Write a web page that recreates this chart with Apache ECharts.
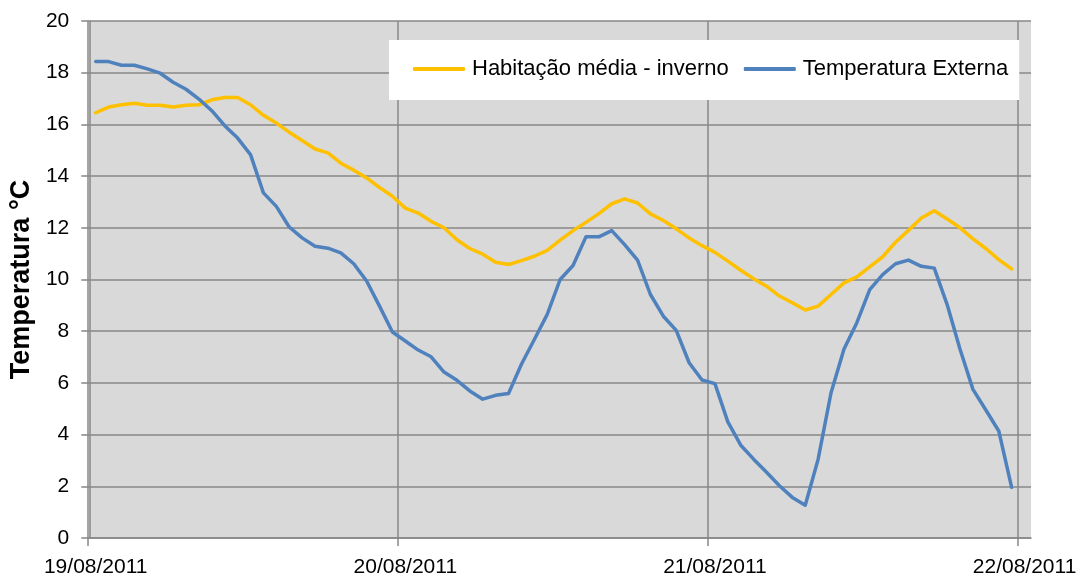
<!DOCTYPE html>
<html>
<head>
<meta charset="utf-8">
<script src="https://cdn.jsdelivr.net/npm/echarts@6/dist/echarts.min.js"></script>
<style>
  html, body { margin: 0; padding: 0; background: #fff; }
  #chart { width: 1086px; height: 578px; }
</style>
</head>
<body>
<div id="chart"></div>
<script>
// Hourly readings over three days (19/08/2011 00:00 to 21/08/2011 23:00)
const dayLabels = ['19/08/2011', '20/08/2011', '21/08/2011', '22/08/2011'];
const hoursPerDay = 24;

const seriesNames = ['Habitação média - inverno', 'Temperatura Externa'];

const habitacao = [
  16.45, 16.67, 16.76, 16.82, 16.74, 16.74, 16.67, 16.74, 16.76, 16.95,
  17.04, 17.04, 16.76, 16.35, 16.05, 15.70, 15.38, 15.05, 14.90, 14.50,
  14.23, 13.93, 13.56, 13.22, 12.76, 12.57, 12.25, 12.00, 11.54, 11.20,
  10.98, 10.67, 10.58, 10.73, 10.90, 11.13, 11.52, 11.89, 12.21, 12.55,
  12.93, 13.12, 12.96, 12.54, 12.28, 11.96, 11.61, 11.31, 11.05, 10.71,
  10.36, 10.03, 9.74, 9.36, 9.10, 8.82, 8.97, 9.42, 9.87, 10.10,
  10.49, 10.88, 11.44, 11.90, 12.38, 12.66, 12.34, 12.00, 11.57, 11.20,
  10.77, 10.41
];

const externa = [
  18.43, 18.43, 18.29, 18.29, 18.15, 17.98, 17.63, 17.36, 16.98, 16.53,
  15.95, 15.47, 14.83, 13.35, 12.83, 12.03, 11.61, 11.29, 11.21, 11.03,
  10.61, 9.94, 8.97, 7.97, 7.62, 7.27, 7.01, 6.42, 6.10, 5.69,
  5.37, 5.52, 5.59, 6.72, 7.68, 8.65, 10.00, 10.54, 11.65, 11.65,
  11.89, 11.35, 10.75, 9.42, 8.58, 8.03, 6.78, 6.11, 5.97, 4.49,
  3.59, 3.05, 2.54, 2.02, 1.57, 1.27, 3.05, 5.62, 7.30, 8.33,
  9.61, 10.19, 10.61, 10.75, 10.51, 10.44, 9.03, 7.30, 5.75, 4.95,
  4.14, 1.96
];

// One category per hour, plus the first hour of the final day
const categories = [];
for (let d = 0; d < dayLabels.length; d++) {
  const n = d === dayLabels.length - 1 ? 1 : hoursPerDay;
  for (let h = 0; h < n; h++) {
    categories.push(dayLabels[d] + ' ' + String(h).padStart(2, '0') + ':00');
  }
}

const FONT = '"Liberation Sans", Arial, sans-serif';
const GRID_COLOR = '#878787';

const chart = echarts.init(document.getElementById('chart'), null, { renderer: 'canvas' });

const plotLeft = 88, plotRight = 55, plotTop = 21, plotBottom = 39;
const plotWidth = 1086 - plotLeft - plotRight;

chart.setOption({
  animation: false,
  backgroundColor: '#ffffff',
  textStyle: { fontFamily: FONT },
  grid: [
    { left: plotLeft, right: plotRight, top: plotTop, bottom: plotBottom,
      show: true, backgroundColor: '#d9d9d9', borderWidth: 0 },
    // day grid: spans the whole-day part of the hourly axis
    { left: plotLeft, top: plotTop, bottom: plotBottom,
      width: plotWidth * (categories.length - 1) / categories.length,
      show: false }
  ],
  legend: {
    left: 389, top: 40,
    padding: [18, 11, 20, 24],
    backgroundColor: '#ffffff',
    icon: 'roundRect',
    itemWidth: 52, itemHeight: 4, itemGap: 15,
    textStyle: { fontFamily: FONT, fontSize: 22, color: '#000', padding: [0, 0, 0, 2] },
    data: seriesNames
  },
  xAxis: [
    {
      type: 'category', gridIndex: 0, data: categories, boundaryGap: true,
      axisLine: { show: true, lineStyle: { color: GRID_COLOR, width: 1.5 } },
      axisTick: { show: false },
      axisLabel: {
        interval: hoursPerDay - 1, margin: 19,
        fontFamily: FONT, fontSize: 21, color: '#000',
        formatter: v => v.split(' ')[0]
      },
      splitLine: { show: false }
    },
    {
      type: 'value', gridIndex: 1, min: 0, max: (dayLabels.length - 1) * hoursPerDay,
      interval: hoursPerDay,
      axisLine: { show: false },
      axisLabel: { show: false },
      axisTick: { show: true, length: 7, lineStyle: { color: GRID_COLOR, width: 1.5 } },
      splitLine: { show: true, lineStyle: { color: GRID_COLOR, width: 1.5 } }
    }
  ],
  yAxis: [
    {
      type: 'value', gridIndex: 0, min: 0, max: 20, interval: 2,
      name: 'Temperatura °C', nameLocation: 'middle', nameGap: 52, nameRotate: 90,
      nameTextStyle: { fontFamily: FONT, fontSize: 27, fontWeight: 'bold', color: '#000' },
      axisLine: { show: true, lineStyle: { color: GRID_COLOR, width: 1.5 } },
      axisTick: { show: true, length: 8, lineStyle: { color: GRID_COLOR, width: 1.5 } },
      axisLabel: { margin: 20, fontFamily: FONT, fontSize: 21, color: '#000' },
      splitLine: { show: true, lineStyle: { color: GRID_COLOR, width: 1.5 } }
    },
    { type: 'value', gridIndex: 1, min: 0, max: 20, show: false }
  ],
  series: [
    {
      name: seriesNames[0], type: 'line', xAxisIndex: 0, yAxisIndex: 0,
      data: habitacao, showSymbol: false, symbol: 'none',
      itemStyle: { color: '#FFC000' },
      lineStyle: { color: '#FFC000', width: 3.5, cap: 'round', join: 'round' },
      z: 3
    },
    {
      name: seriesNames[1], type: 'line', xAxisIndex: 0, yAxisIndex: 0,
      data: externa, showSymbol: false, symbol: 'none',
      itemStyle: { color: '#4F81BD' },
      lineStyle: { color: '#4F81BD', width: 3.5, cap: 'round', join: 'round' },
      z: 4
    }
  ]
});
</script>
</body>
</html>
